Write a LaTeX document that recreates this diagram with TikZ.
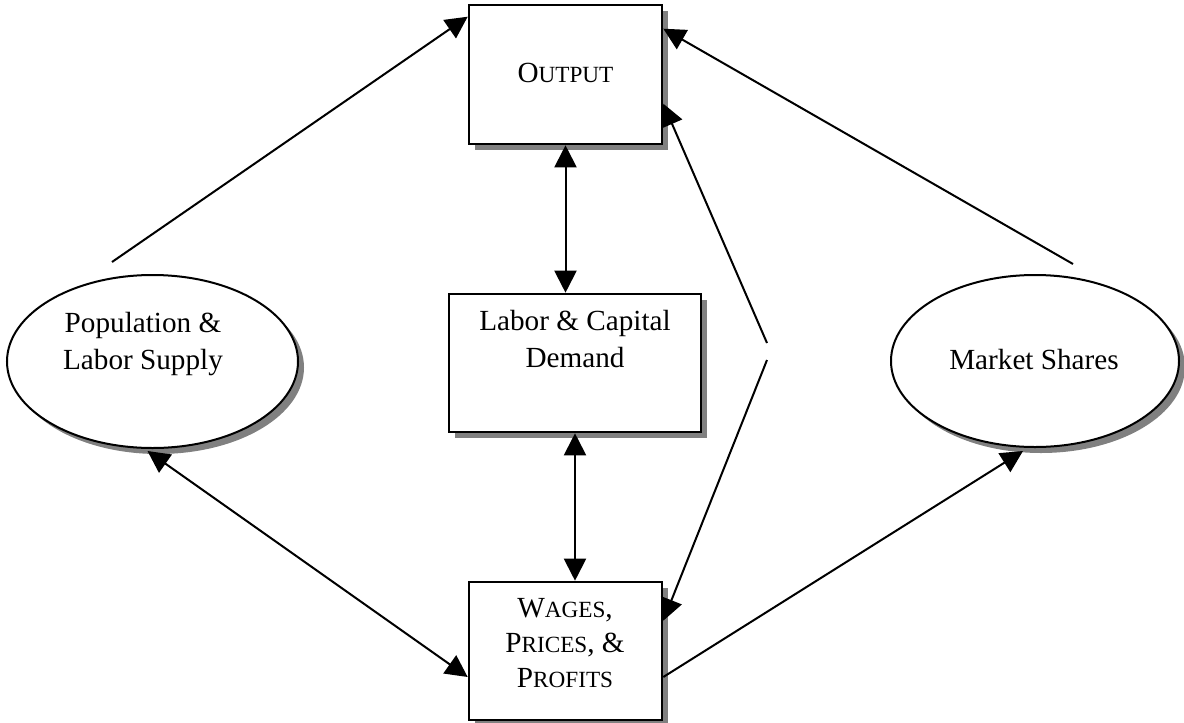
\documentclass[tikz,border=0pt]{standalone}
\usepackage{fontspec}
\setmainfont{Liberation Serif}
\usetikzlibrary{arrows.meta,shadows,shapes.geometric,calc}
\newcommand\fsc[1]{{\fontsize{11.6pt}{11.6pt}\selectfont #1}}
\begin{document}
\begin{tikzpicture}[x=0.5pt,y=-0.5pt,
 box/.style={draw,line width=1.3pt,fill=white,inner sep=0pt,rectangle,
   drop shadow={shadow xshift=3pt,shadow yshift=-3pt,fill=black!50,opacity=1}},
 oval/.style={draw,line width=1pt,fill=white,ellipse,inner sep=0pt,
   drop shadow={shadow xshift=3pt,shadow yshift=-3pt,fill=black!50,opacity=1}},
 txt/.style={anchor=base,inner sep=0pt,font=\fontsize{14.6pt}{17pt}\selectfont},
 link/.style={line width=1pt},
 onearrow/.style={-{Triangle[length=11pt,width=11pt]}},
 twoarrow/.style={{Triangle[length=11pt,width=11pt]}-{Triangle[length=11pt,width=11pt]}},
]
\useasboundingbox (0,0) rectangle (1184,723);
\node[box,minimum width=96.5pt,minimum height=69.5pt] (out) at (565.5,74.5) {};
\node[box,minimum width=126pt,minimum height=69pt] (lab) at (575,363) {};
\node[box,minimum width=96.5pt,minimum height=69pt] (wag) at (565.5,651) {};
\node[oval,minimum width=145.5pt,minimum height=86.5pt] (pop) at (152.5,361.5) {};
\node[oval,minimum width=144pt,minimum height=86pt] (ms) at (1035,361) {};

\node[txt] (outT) at (565.5,82) {O\fsc{UTPUT}};
\node[txt] (labT1) at (575,330) {Labor \& Capital};
\node[txt] (labT2) at (575,367) {Demand};
\node[txt] (wagT1) at (565,617) {W\fsc{AGES},};
\node[txt] (wagT2) at (565,652) {P\fsc{RICES}, \&};
\node[txt] (wagT3) at (565,687) {P\fsc{ROFITS}};
\node[txt] (popT1) at (143,332) {Population \&};
\node[txt] (popT2) at (143,369) {Labor Supply};
\node[txt] (msT) at (1034,369) {Market Shares};

\coordinate (a1) at (112,262);
\coordinate (a2) at (1073,264);
\coordinate (k1) at (767,343);
\coordinate (k2) at (767,360);

\draw[link,onearrow] (a1) -- ($(out.north west)+(0,13)$);
\draw[link,onearrow] (a2) -- ($(out.north east)+(0,25)$);
\draw[link,twoarrow] (out.south) -- (out.south |- lab.north);
\draw[link,twoarrow] (lab.south) -- (lab.south |- wag.north);
\draw[link,onearrow] (k1) -- ($(out.north east)+(0,100)$);
\draw[link,onearrow] (k2) -- ($(wag.north east)+(0,40)$);
\draw[link,twoarrow] ($(pop.south)+(-5,2)$) -- ($(wag.west)+(0,26)$);
\draw[link,onearrow] ($(wag.east)+(0,26)$) -- ($(ms.south)+(-12,3)$);
\end{tikzpicture}
\end{document}
